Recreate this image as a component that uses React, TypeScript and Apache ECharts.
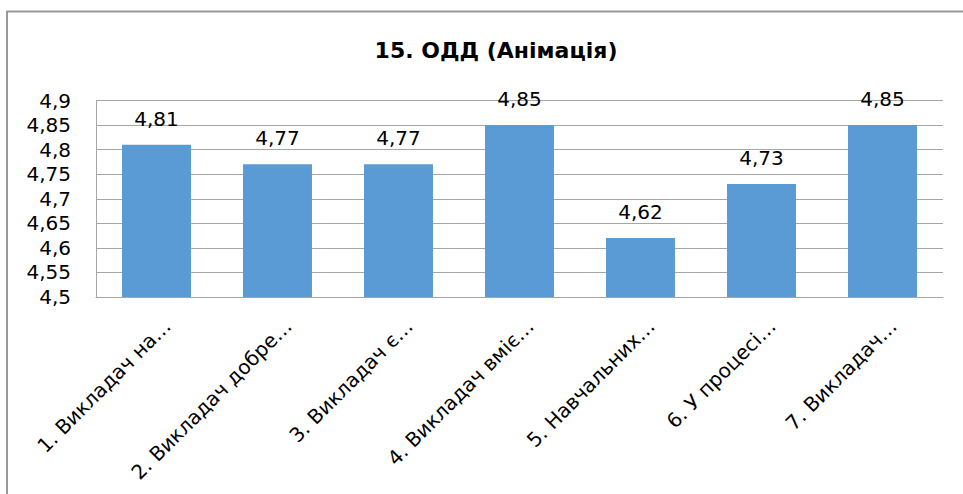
import React, { useEffect, useRef } from "react";
import * as echarts from "echarts";

const categories = [
  "1. Викладач на…",
  "2. Викладач добре…",
  "3. Викладач є…",
  "4. Викладач вміє…",
  "5. Навчальних…",
  "6. У процесі…",
  "7. Викладач…",
];
const values = [4.81, 4.77, 4.77, 4.85, 4.62, 4.73, 4.85];
const yMin = 4.5;
const yMax = 4.9;
const yStep = 0.05;
const title = "15. ОДД (Анімація)";

const fmt = (v: number) => String(+v.toFixed(2)).replace(".", ",");

export default function App() {
  const ref = useRef<HTMLDivElement>(null);
  useEffect(() => {
    if (!ref.current) return;
    const chart = echarts.init(ref.current, null, { renderer: "svg" });
    const font = "DejaVu Sans";
    chart.setOption({
      animation: false,
      backgroundColor: "#ffffff",
      title: {
        text: title,
        left: 491,
        top: 34,
        textAlign: "center",
        textStyle: { fontFamily: font, fontWeight: "bold", fontSize: 22, color: "#000" },
      },
      graphic: [
        {
          type: "polyline",
          shape: { points: [[7, 494], [7, 11.5], [963, 11.5]] },
          style: { stroke: "#999999", lineWidth: 2, fill: "none" },
          silent: true,
        },
      ],
      grid: {
        left: 96,
        top: 100.5,
        right: 20,
        bottom: 197,
        containLabel: false,
        outerBoundsMode: "none",
      },
      xAxis: {
        type: "category",
        data: categories,
        axisLine: { show: true, lineStyle: { color: "#a6a6a6", width: 1 } },
        axisTick: { show: false },
        axisLabel: {
          rotate: 45,
          interval: 0,
          margin: 15,
          verticalAlign: "top",
          lineHeight: 30,
          fontFamily: font,
          fontSize: 20,
          color: "#000",
        },
      },
      yAxis: {
        type: "value",
        min: yMin,
        max: yMax,
        interval: yStep,
        axisLine: { show: true, lineStyle: { color: "#a6a6a6", width: 1 } },
        axisTick: { show: false },
        splitLine: { show: true, lineStyle: { color: "#a6a6a6", width: 1 } },
        axisLabel: {
          margin: 25,
          fontFamily: font,
          fontSize: 20,
          color: "#000",
          formatter: (v: number) => fmt(v),
        },
      },
      series: [
        {
          type: "bar",
          data: values,
          barWidth: "57%",
          itemStyle: { color: "#5b9bd5" },
          label: {
            show: true,
            position: "top",
            distance: 16,
            fontFamily: font,
            fontSize: 20,
            color: "#000",
            formatter: (p: any) => fmt(p.value),
          },
        },
      ],
    });
    return () => chart.dispose();
  }, []);
  return (
    <div
      ref={ref}
      style={{ position: "fixed", left: 0, top: 0, width: 963, height: 494 }}
    />
  );
}
